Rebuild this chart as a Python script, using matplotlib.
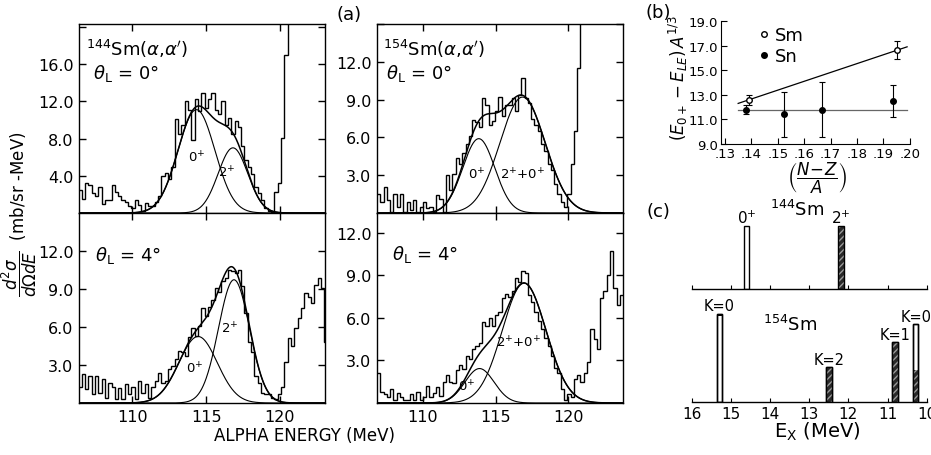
import numpy as np
import matplotlib
matplotlib.use('Agg')
import matplotlib.pyplot as plt

plt.rcParams['font.family'] = ['DejaVu Sans']
plt.rcParams['mathtext.fontset'] = 'dejavusans'

W, H = 931, 456

# ---- panel (a) spectra: histogram counts, one value per channel ----
bin_width = 0.225
start_left = 106.35     # first channel of the 144Sm spectra (MeV)
start_right = 106.87    # first channel of the 154Sm spectra (MeV)

counts_144_0 = [2.5, 1.5, 3.2, 3.0, 2.2, 1.8, 2.8, 1.0, 1.4, 1.4,
                3.0, 2.3, 1.8, 1.4, 1.2, 0.7, 0.5, 1.4, 0.9, 0.2,
                1.1, 0.8, 0.7, 1.2, 1.8, 4.0, 4.3, 3.6, 4.9, 10.1,
                8.5, 9.5, 12.0, 11.1, 7.8, 12.2, 11.0, 12.9, 11.3, 12.2,
                12.9, 11.1, 10.6, 12.0, 9.5, 10.2, 8.5, 9.9, 9.2, 7.2,
                5.7, 4.9, 4.2, 2.8, 2.1, 1.4, 0.5, 0.2, 0.1, 2.3,
                3.2, 8.1, 17.0, 30, 30, 30, 30, 30, 30, 30,
                30, 30, 30, 30, 30]
counts_154_0 = [1.5, 0.9, 2.1, 1.0, 0.1, 1.5, 0.5, 1.5, 0.1, 0.9,
                0.2, 1.0, 0.1, 0.5, 0.9, 0.4, 0.5, 0.1, 1.4, 1.1,
                0.1, 3.0, 1.8, 3.1, 4.4, 3.9, 4.8, 5.5, 6.1, 7.4,
                7.2, 6.8, 9.1, 8.6, 7.0, 7.3, 8.1, 9.2, 7.7, 8.6,
                8.6, 9.1, 8.1, 9.4, 10.7, 9.1, 8.7, 7.5, 7.0, 6.5,
                5.5, 4.9, 3.9, 3.4, 2.3, 1.5, 0.9, 0.5, 1.5, 3.9,
                6.5, 11.5, 30, 30, 30, 30, 30, 30, 30, 30,
                30, 30, 30, 30, 30]
counts_144_4 = [1.3, 2.3, 1.1, 2.1, 0.7, 2.1, 0.8, 1.9, 0.4, 1.6,
                1.3, 0.3, 1.2, 0.3, 1.5, 0.7, 1.3, 0.3, 1.7, 0.8,
                1.5, 0.4, 1.3, 1.7, 2.4, 1.6, 1.7, 2.7, 2.9, 3.5,
                4.1, 4.0, 3.7, 5.2, 5.9, 5.3, 6.1, 7.5, 6.9, 7.6,
                8.1, 9.1, 8.8, 9.6, 9.9, 10.5, 10.4, 10.3, 10.5, 9.2,
                7.1, 4.8, 4.0, 2.1, 1.6, 0.8, 0.7, 0.7, 0.4, 0.3,
                0.7, 1.3, 3.2, 5.1, 4.5, 5.9, 6.7, 7.5, 8.7, 8.4,
                7.9, 9.3, 9.9, 9.1, 4.8]
counts_154_4 = [2.1, 0.8, 0.6, 0.4, 1.0, 0.2, 0.7, 0.4, 0.2, 0.2,
                0.6, 0.2, 0.8, 0.2, 0.4, 1.2, 0.4, 0.7, 1.1, 0.5,
                1.5, 2.0, 1.5, 1.4, 2.3, 2.7, 2.4, 3.3, 3.1, 3.8,
                4.0, 4.2, 5.7, 5.4, 6.0, 5.4, 6.2, 6.4, 7.4, 7.7,
                7.5, 7.9, 8.8, 8.5, 9.3, 9.2, 7.6, 7.1, 6.4, 5.8,
                5.2, 4.6, 4.0, 3.3, 2.5, 2.1, 1.0, 0.2, 0.6, 0.4,
                1.7, 2.0, 1.5, 2.1, 2.9, 5.2, 4.5, 3.8, 7.4, 7.9,
                9.0, 10.7, 8.1, 6.9, 7.6]

# fitted peaks: (centre MeV, sigma MeV, height)
peaks_144_0 = [(114.35, 1.25, 11.1), (116.82, 1.0, 7.0)]
peaks_154_0 = [(113.85, 1.1, 5.9), (116.85, 1.55, 9.2)]
peaks_144_4 = [(114.46, 1.3, 5.25), (116.89, 1.05, 9.73)]
peaks_154_4 = [(113.9, 1.0, 2.43), (116.96, 1.5, 8.45)]

# ---- panel (b) ----
nz_sm = [0.139, 0.195]
val_sm = [12.6, 16.65]
err_sm = [0.4, 0.7]
nz_sn = [0.138, 0.1525, 0.1667, 0.1935]
val_sn = [11.8, 11.4, 11.8, 12.5]
err_sn = [0.4, 1.8, 2.2, 1.3]
sm_line_x = [0.135, 0.199]
sm_line_y = [12.3, 16.9]
sn_line_x = [0.135, 0.199]
sn_line_y = [11.8, 11.8]

# ---- panel (c) strength distributions ----
ex_144 = [14.6, 12.19]
str_144 = [1.0, 1.0]
lab_144 = ['0$^{+}$', '2$^{+}$']
ex_154 = [15.29, 12.5, 10.81, 10.28]
str_154 = [1.40, 0.55, 0.95, 1.24]
dark_154 = [0.04, 0.55, 0.95, 0.51]   # dark (hatched) part of each bar
lab_154 = ['K=0', 'K=2', 'K=1', 'K=0']


def px_axes(x0, y0, x1, y1):
    return fig.add_axes([x0 / W, 1 - y1 / H, (x1 - x0) / W, (y1 - y0) / H])


def gauss(x, c, s, a):
    return a * np.exp(-(x - c) ** 2 / (2 * s ** 2))


fig = plt.figure(figsize=(W / 100, H / 100), dpi=100)

panels = [
    (px_axes(79, 25, 325, 214), counts_144_0, start_left, peaks_144_0, (106.4, 123.05), 20.3,
     [4, 8, 12, 16, 20], ['4.0', '8.0', '12.0', '16.0', '']),
    (px_axes(377, 25, 623, 214), counts_154_0, start_right, peaks_154_0, (106.87, 123.74), 15.0,
     [3, 6, 9, 12, 15], ['3.0', '6.0', '9.0', '12.0', '']),
    (px_axes(79, 214, 325, 404), counts_144_4, start_left, peaks_144_4, (106.4, 123.05), 15.0,
     [3, 6, 9, 12], ['3.0', '6.0', '9.0', '12.0']),
    (px_axes(377, 214, 623, 404), counts_154_4, start_right, peaks_154_4, (106.87, 123.74), 13.4,
     [3, 6, 9, 12], ['3.0', '6.0', '9.0', '12.0']),
]

for i, (ax, counts, e0, peaks, xl, ytop, yt, ylab) in enumerate(panels):
    edges = e0 + bin_width * np.arange(len(counts) + 1)
    ax.stairs(counts, edges, color='black', lw=1.0, baseline=None)
    xs = np.linspace(xl[0], xl[1], 500)
    total = np.zeros_like(xs)
    for c, s, a in peaks:
        g = gauss(xs, c, s, a)
        total += g
        ax.plot(xs, g, color='black', lw=0.8)
    ax.plot(xs, total, color='black', lw=1.1)
    ax.set_xlim(*xl)
    ax.set_ylim(0, ytop)
    ax.set_xticks([110, 115, 120])
    ax.set_yticks(yt)
    ax.set_yticklabels(ylab)
    ax.tick_params(direction='in', length=5, width=1, top=True, right=True, labelsize=11.5, pad=4)
    if i < 2:
        ax.tick_params(labelbottom=False)
    for sp in ax.spines.values():
        sp.set_linewidth(1.0)

axA, axB, axC, axD = [p[0] for p in panels]

axA.text(0.028, 0.875, r'$^{144}$Sm($\alpha$,$\alpha^{\prime}$)', transform=axA.transAxes, fontsize=13, va='center')
axA.text(0.055, 0.745, r'$\theta_{\rm L}$ = 0°', transform=axA.transAxes, fontsize=13, va='center')
axA.text(114.35, 6.0, '0$^{+}$', fontsize=9.5, ha='center', va='center')
axA.text(116.4, 4.4, '2$^{+}$', fontsize=9.5, ha='center', va='center')

axB.text(0.024, 0.875, r'$^{154}$Sm($\alpha$,$\alpha^{\prime}$)', transform=axB.transAxes, fontsize=13, va='center')
axB.text(0.035, 0.745, r'$\theta_{\rm L}$ = 0°', transform=axB.transAxes, fontsize=13, va='center')
axB.text(113.7, 3.1, '0$^{+}$', fontsize=9.5, ha='center', va='center')
axB.text(116.85, 3.1, '2$^{+}$+0$^{+}$', fontsize=9.5, ha='center', va='center')

axC.text(0.064, 0.78, r'$\theta_{\rm L}$ = 4°', transform=axC.transAxes, fontsize=13, va='center')
axC.text(116.6, 5.9, '2$^{+}$', fontsize=9.5, ha='center', va='center')
axC.text(114.2, 2.8, '0$^{+}$', fontsize=9.5, ha='center', va='center')

axD.text(0.06, 0.785, r'$\theta_{\rm L}$ = 4°', transform=axD.transAxes, fontsize=13, va='center')
axD.text(116.6, 4.3, '2$^{+}$+0$^{+}$', fontsize=9.5, ha='center', va='center')
axD.text(113.0, 1.2, '0$^{+}$', fontsize=9.5, ha='center', va='center')

fig.text(349 / W, 1 - 15 / H, '(a)', fontsize=13, ha='center', va='center')
fig.text(305 / W, 1 - 436 / H, 'ALPHA ENERGY (MeV)', fontsize=12, ha='center', va='center')
fig.text(19 / W, 1 - 214 / H, r'$\dfrac{d^2\sigma}{d\Omega dE}$  (mb/sr -MeV)', rotation=90,
         fontsize=12, ha='center', va='center')

# ---- panel (b) ----
axb = px_axes(721, 22, 910, 145)
axb.plot(sm_line_x, sm_line_y, color='black', lw=0.9)
axb.plot(sn_line_x, sn_line_y, color='#666666', lw=0.9)
axb.errorbar(nz_sn, val_sn, yerr=err_sn, fmt='o', ms=4, color='black', ecolor='black',
             elinewidth=0.8, capsize=2.5, capthick=0.8)
axb.errorbar(nz_sm, val_sm, yerr=err_sm, fmt='o', ms=4, mfc='white', mec='black', ecolor='black',
             elinewidth=0.8, capsize=2.5, capthick=0.8, zorder=3)
axb.set_xlim(0.1285, 0.2001)
axb.set_ylim(9, 19)
axb.set_xticks([0.13, 0.14, 0.15, 0.16, 0.17, 0.18, 0.19, 0.20])
axb.set_xticklabels(['.13', '.14', '.15', '.16', '.17', '.18', '.19', '.20'])
axb.set_yticks([9, 11, 13, 15, 17, 19])
axb.set_yticklabels(['9.0', '11.0', '13.0', '15.0', '17.0', '19.0'])
axb.tick_params(direction='in', length=4, labelsize=9.5, pad=2)
axb.spines['top'].set_visible(False)
axb.spines['right'].set_visible(False)
h_sm, = axb.plot([], [], 'o', ms=4, mfc='white', mec='black')
h_sn, = axb.plot([], [], 'o', ms=4, color='black')
axb.legend([h_sm, h_sn], ['Sm', 'Sn'], loc='upper left', bbox_to_anchor=(0.13, 1.06), frameon=False,
           fontsize=13, handlelength=0.6, handletextpad=0.3, labelspacing=0.15, borderpad=0.2)
fig.text(678 / W, 1 - 78 / H, r'$(E_{0+}-E_{LE})\,A^{1/3}$', rotation=90, fontsize=12, ha='center', va='center')
fig.text(817 / W, 1 - 178 / H, r'$\left(\dfrac{N\!-\!Z}{A}\right)$', fontsize=12, ha='center', va='center')
fig.text(658 / W, 1 - 13 / H, '(b)', fontsize=13, ha='center', va='center')

# ---- panel (c) ----
bar_w = 0.14
axc1 = px_axes(691.7, 200, 926.7, 290)
axc2 = px_axes(691.7, 300, 926.7, 402.7)
for ax, top in ((axc1, 90 / 63), (axc2, 102.7 / 63)):
    ax.set_xlim(16, 10)
    ax.set_ylim(0, top)
    ax.set_xticks([16, 15, 14, 13, 12, 11, 10])
    ax.set_yticks([])
    for s in ('top', 'left', 'right'):
        ax.spines[s].set_visible(False)
    ax.spines['bottom'].set_linewidth(1.0)
    ax.patch.set_alpha(0)
axc1.tick_params(axis='x', direction='in', length=3, labelbottom=False)
axc2.tick_params(axis='x', direction='in', length=3, labelsize=11, pad=3)

# 144Sm: open 0+, dark hatched 2+
axc1.bar(ex_144[0], str_144[0], width=bar_w, color='white', edgecolor='black', lw=1.0)
axc1.bar(ex_144[1], str_144[1], width=bar_w, color='#2a2a2a', edgecolor='#9a9a9a', hatch='/////', lw=0)
axc1.bar(ex_144[1], str_144[1], width=bar_w, fill=False, edgecolor='black', lw=1.0)
for e, s, t in zip(ex_144, str_144, lab_144):
    axc1.text(e, s + 0.13, t, fontsize=11, ha='center', va='center', clip_on=False)
axc1.text(13.31, 1.27, r'$^{144}$Sm', fontsize=13, ha='center', va='center', clip_on=False)

# 154Sm
for e, s, d, t in zip(ex_154, str_154, dark_154, lab_154):
    axc2.bar(e, s, width=bar_w, color='white', edgecolor='black', lw=1.0)
    if t == 'K=0' and e > 15:
        axc2.bar(e, d, bottom=s - d, width=bar_w, color='black', lw=0)
    else:
        axc2.bar(e, d, width=bar_w, color='#2a2a2a', edgecolor='#9a9a9a', hatch='/////', lw=0)
    axc2.bar(e, s, width=bar_w, fill=False, edgecolor='black', lw=1.0)
    axc2.text(e, s + 0.12, t, fontsize=10.5, ha='center', va='center', clip_on=False)
axc2.text(13.49, 1.23, r'$^{154}$Sm', fontsize=13, ha='center', va='center')

fig.text(817 / W, 1 - 432 / H, r'E$_{\rm X}$ (MeV)', fontsize=14, ha='center', va='center')
fig.text(658 / W, 1 - 212 / H, '(c)', fontsize=13, ha='center', va='center')

fig.savefig('out.png', dpi=100)
